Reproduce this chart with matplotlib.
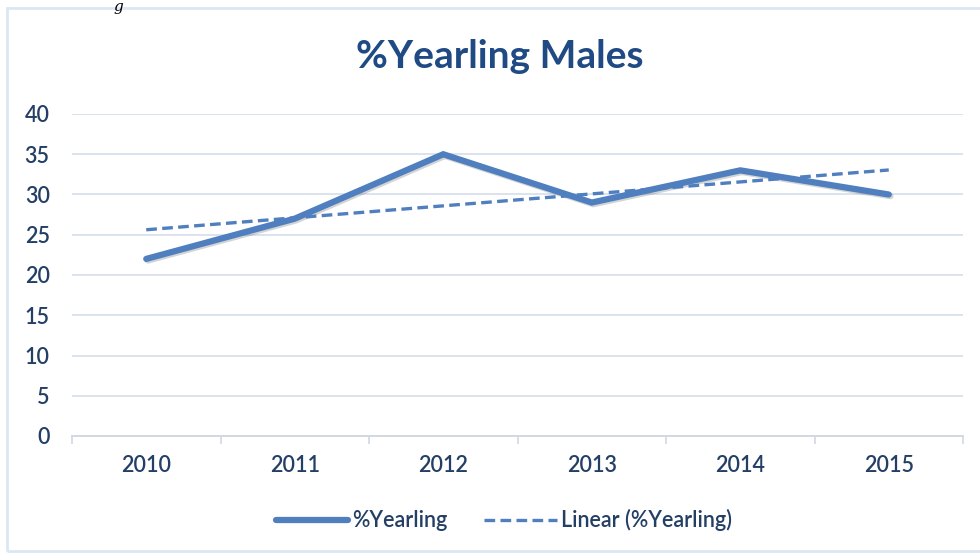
import numpy as np
import matplotlib.pyplot as plt
import matplotlib.patheffects as pe
from matplotlib.patches import Rectangle
from matplotlib.lines import Line2D

years = ["2010", "2011", "2012", "2013", "2014", "2015"]
pct_yearling = [22, 27, 35, 29, 33, 30]
y_ticks = [0, 5, 10, 15, 20, 25, 30, 35, 40]

plt.rcParams['font.family'] = ['Lato', 'DejaVu Sans']

line_color = "#4f7fbf"
text_color = "#243f66"
title_color = "#1f4a84"
grid_color = "#dbe3ef"
label_size = 15.5

fig = plt.figure(figsize=(9.8, 5.54), dpi=100)
fig.patch.set_facecolor("white")

# chart border
fig.add_artist(Rectangle((7 / 980, 3 / 554), 1.2, 1 - 11 / 554,
                         transform=fig.transFigure, fill=False,
                         edgecolor="#dde7f3", linewidth=2.0))
# stray glyph from the surrounding document
fig.text(118 / 980, 1.0, "g", fontsize=11, color="black",
         family="DejaVu Serif", ha="center", va="top", fontstyle="italic")

ax = fig.add_axes([72 / 980, 1 - 436 / 554, (963 - 72) / 980, (436 - 114) / 554])
x = np.arange(len(years))

# linear trend (least squares)
slope, intercept = np.polyfit(x, pct_yearling, 1)
trend = slope * x + intercept

ax.plot(x, pct_yearling, color=line_color, linewidth=4.5, solid_capstyle="round",
        solid_joinstyle="miter", zorder=3,
        path_effects=[pe.SimpleLineShadow(offset=(1.2, -1.2), alpha=0.25, shadow_color="#555555"),
                      pe.Normal()])
ax.plot(x, trend, color=line_color, linewidth=2.4, linestyle=(0, (3.2, 1.6)), zorder=4)

ax.set_xlim(-0.5, len(years) - 0.5)
ax.set_ylim(0, 40)
ax.set_yticks(y_ticks)
ax.set_yticklabels([str(v) for v in y_ticks], fontsize=label_size, color=text_color,
                   fontweight="semibold")
ax.set_xticks(x)
ax.set_xticklabels(years, fontsize=label_size, color=text_color, fontweight="semibold")
ax.tick_params(axis="y", length=0, pad=16)
ax.tick_params(axis="x", length=0, pad=14)

# category boundary tick marks
ax.set_xticks(np.arange(-0.5, len(years)), minor=True)
ax.tick_params(axis="x", which="minor", length=6, width=1.2, color="#d0d8e4", direction="out")

ax.grid(axis="y", color=grid_color, linewidth=1.4)
ax.set_axisbelow(True)
for s in ["top", "right", "left"]:
    ax.spines[s].set_visible(False)
ax.spines["bottom"].set_color("#d0d8e4")
ax.spines["bottom"].set_linewidth(1.4)

fig.text(500 / 980, 1 - 57 / 554, "%Yearling Males", fontsize=28, fontweight="bold",
         color=title_color, ha="center", va="center")

handles = [Line2D([0], [0], color=line_color, linewidth=4.5, solid_capstyle="round"),
           Line2D([0], [0], color=line_color, linewidth=2.4, linestyle=(0, (3.2, 1.6)))]
fig.legend(handles, ["%Yearling", "Linear (%Yearling)"], loc="center",
           bbox_to_anchor=(504 / 980, 1 - 520 / 554), ncol=2, frameon=False,
           prop={"size": label_size, "weight": "semibold"}, labelcolor=text_color,
           handlelength=3.35, handletextpad=0.2, columnspacing=1.7)

fig.savefig("out.png", dpi=100, facecolor="white")
